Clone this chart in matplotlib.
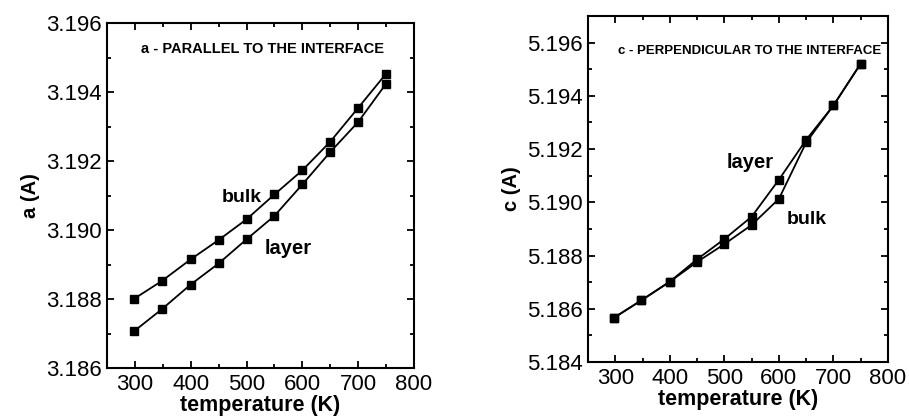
import matplotlib
matplotlib.use("Agg")
import matplotlib.pyplot as plt
from matplotlib.ticker import MultipleLocator, FormatStrFormatter

plt.rcParams['font.family'] = ['Liberation Sans', 'DejaVu Sans']

temperature = [298, 348, 400, 450, 500, 550, 600, 650, 700, 750]
a_bulk = [3.1880, 3.18852, 3.18915, 3.18971, 3.19031, 3.19103, 3.19173, 3.19256, 3.19354, 3.19453]
a_layer = [3.18706, 3.1877, 3.18842, 3.18903, 3.18973, 3.19041, 3.19132, 3.19226, 3.19313, 3.19424]
c_layer = [5.18567, 5.18632, 5.18702, 5.18786, 5.18862, 5.18946, 5.19085, 5.19235, 5.19364, 5.19521]
c_bulk = [5.18567, 5.18632, 5.18702, 5.18776, 5.18843, 5.18915, 5.19013, 5.19225, 5.19364, 5.19521]

fig = plt.figure(figsize=(9.09, 4.2), dpi=100)
ax1 = fig.add_axes([0.1177, 0.1238, 0.3377, 0.8214])
ax2 = fig.add_axes([0.6469, 0.138, 0.330, 0.824])

def style(ax, ylim, yfmt):
    ax.set_xlim(250, 800)
    ax.set_ylim(*ylim)
    ax.xaxis.set_major_locator(MultipleLocator(100))
    ax.xaxis.set_minor_locator(MultipleLocator(50))
    ax.yaxis.set_major_locator(MultipleLocator(0.002))
    ax.yaxis.set_minor_locator(MultipleLocator(0.001))
    ax.yaxis.set_major_formatter(FormatStrFormatter(yfmt))
    ax.tick_params(which='both', direction='in', top=True, right=True,
                   width=1.3, labelsize=16)
    ax.tick_params(which='major', length=5, pad=4)
    ax.tick_params(which='minor', length=3)
    for s in ax.spines.values():
        s.set_linewidth(1.5)
    ax.set_xlabel('temperature (K)', fontsize=15.5, fontweight='bold', labelpad=0)

mk = dict(color='black', marker='s', markersize=6, linewidth=1.3)

ax1.plot(temperature, a_bulk, **mk)
ax1.plot(temperature, a_layer, **mk)
style(ax1, (3.186, 3.196), '%.3f')
ax1.set_ylabel('a (A)', fontsize=14.5, fontweight='bold', labelpad=4)
ax1.text(0.11, 0.925, 'a - PARALLEL TO THE INTERFACE', transform=ax1.transAxes,
         fontsize=10.5, fontweight='bold', va='center')
ax1.text(456, 3.19093, 'bulk', fontsize=14, fontweight='bold', va='center')
ax1.text(533, 3.18945, 'layer', fontsize=14.5, fontweight='bold', va='center')

ax2.plot(temperature, c_layer, **mk)
ax2.plot(temperature, c_bulk, **mk)
style(ax2, (5.184, 5.197), '%.3f')
ax2.set_ylabel('c (A)', fontsize=14.5, fontweight='bold', labelpad=4)
ax2.text(0.1, 0.9, 'c - PERPENDICULAR TO THE INTERFACE', transform=ax2.transAxes,
         fontsize=9.5, fontweight='bold', va='center')
ax2.text(505, 5.19151, 'layer', fontsize=14.5, fontweight='bold', va='center')
ax2.text(615, 5.18937, 'bulk', fontsize=14, fontweight='bold', va='center')

fig.savefig('out.png', dpi=100)
